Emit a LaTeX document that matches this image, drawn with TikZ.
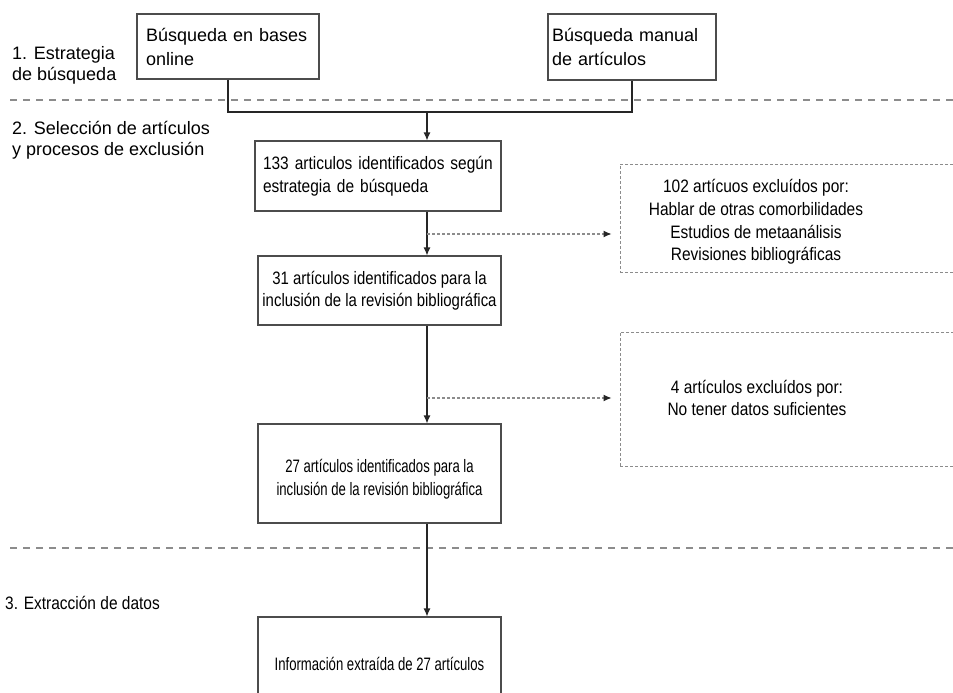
\documentclass[tikz,border=0pt]{standalone}
\usepackage{fontspec}
\setmainfont{Liberation Sans}
\newfontfamily\condf[FakeStretch=0.86]{Liberation Sans}
\newfontfamily\condh[FakeStretch=0.83]{Liberation Sans}
\newfontfamily\condg[FakeStretch=0.73]{Liberation Sans}
\usetikzlibrary{arrows.meta,calc}
\begin{document}
\begin{tikzpicture}[x=1pt,y=-1pt,
 topbox/.style={draw=black!70, line width=1.1pt, inner ysep=0pt, align=left, font=\fontsize{18}{24}\selectfont},
 box/.style={draw=black!70, line width=1.1pt, inner ysep=0pt, inner xsep=0pt, font=\condf\fontsize{18}{22.5}\selectfont},
 boxh/.style={box, font=\condh\fontsize{18}{22.5}\selectfont},
 boxg/.style={box, font=\condg\fontsize{18}{22.5}\selectfont},
 txtg/.style={inner sep=0pt, align=center, font=\condg\fontsize{18}{22.5}\selectfont},
 exbox/.style={draw=black!45, line width=1pt, dash pattern=on 3pt off 2pt, inner sep=0pt},
 extxt/.style={inner sep=0pt, align=center, font=\condf\fontsize{18}{22.7}\selectfont},
 sep/.style={draw=black!45, line width=1.3pt, dash pattern=on 7pt off 6pt},
 conn/.style={draw=black!85, line width=1.1pt},
 arr/.style={conn, -{Latex[length=8pt,width=7pt]}},
 darr/.style={draw=black!45, line width=1.1pt, dash pattern=on 3pt off 2pt, -{Latex[length=8pt,width=7pt,color=black!85,fill=black!85]}, shorten >=8pt},
 lab/.style={anchor=west, inner sep=0pt, align=left, font=\fontsize{18}{21}\selectfont},
 labc/.style={anchor=west, inner sep=0pt, align=left, font=\condf\fontsize{18}{21}\selectfont}]
\clip (0,0) rectangle (953,693);
\fill[white] (0,0) rectangle (953,693);

% separators
\coordinate (s1a) at (10,100);
\coordinate (s1b) at (960,100);
\coordinate (s2a) at (10,548);
\coordinate (s2b) at (960,548);
\draw[sep] (s1a) -- (s1b);
\draw[sep] (s2a) -- (s2b);

% left labels
\node[lab] (l1) at (12,65.5) {1. Estrategia\\de búsqueda};
\node[lab] (l2) at (12,140.5) {2. Selección de artículos\\y procesos de exclusión};
\node[labc] (l3) at (5,603) {3. Extracción de datos};

% boxes
\node[topbox, minimum width=182pt, minimum height=65pt, text width=164pt] (b1) at (228,46.5) {Búsqueda en bases\\online};
\node[topbox, minimum width=168pt, minimum height=66pt, text width=160pt] (b2) at (632,47) {Búsqueda manual\\de artículos};
\node[box, minimum width=246pt, minimum height=70pt, text width=230pt, inner xsep=8pt, align=left] (b3) at (378,176) {133 articulos identificados según\\estrategia de búsqueda};
\node[boxh, minimum width=243pt, minimum height=69pt, align=center] (b4) at (379.5,290.5) {31 artículos identificados para la\\inclusión de la revisión bibliográfica};
\node[box, minimum width=243pt, minimum height=99pt] (b5) at (379.5,473.5) {};
\node[txtg] (t5) at (379.5,479) {27 artículos identificados para la\\inclusión de la revisión bibliográfica};
\node[boxg, minimum width=243pt, minimum height=94pt, align=center] (b6) at (379.5,664) {Información extraída de 27 artículos};

% exclusion boxes
\node[exbox, minimum width=340pt, minimum height=108pt] (exA) at (790,218) {};
\node[extxt] (tA) at (756,222) {102 artícuos excluídos por:\\Hablar de otras comorbilidades\\Estudios de metaanálisis\\Revisiones bibliográficas};
\node[exbox, minimum width=340pt, minimum height=134pt] (exB) at (790,399) {};
\node[extxt] (tB) at (757,398) {4 artículos excluídos por:\\No tener datos suficientes};

% connectors
\coordinate (j) at (427,112);
\draw[conn] (b1.south) -- (b1.south |- j) -- (b2.south |- j) -- (b2.south);
\draw[arr] (j) -- (j |- b3.north);
\draw[arr] (b3.south -| j) -- (b4.north -| j);
\draw[arr] (b4.south -| j) -- (b5.north -| j);
\draw[arr] (b5.south -| j) -- (b6.north -| j);
\coordinate (dA) at (427,234);
\coordinate (dB) at (427,398);
\draw[darr] (dA) -- (exA.west |- dA);
\draw[darr] (dB) -- (exB.west |- dB);
\end{tikzpicture}
\end{document}
